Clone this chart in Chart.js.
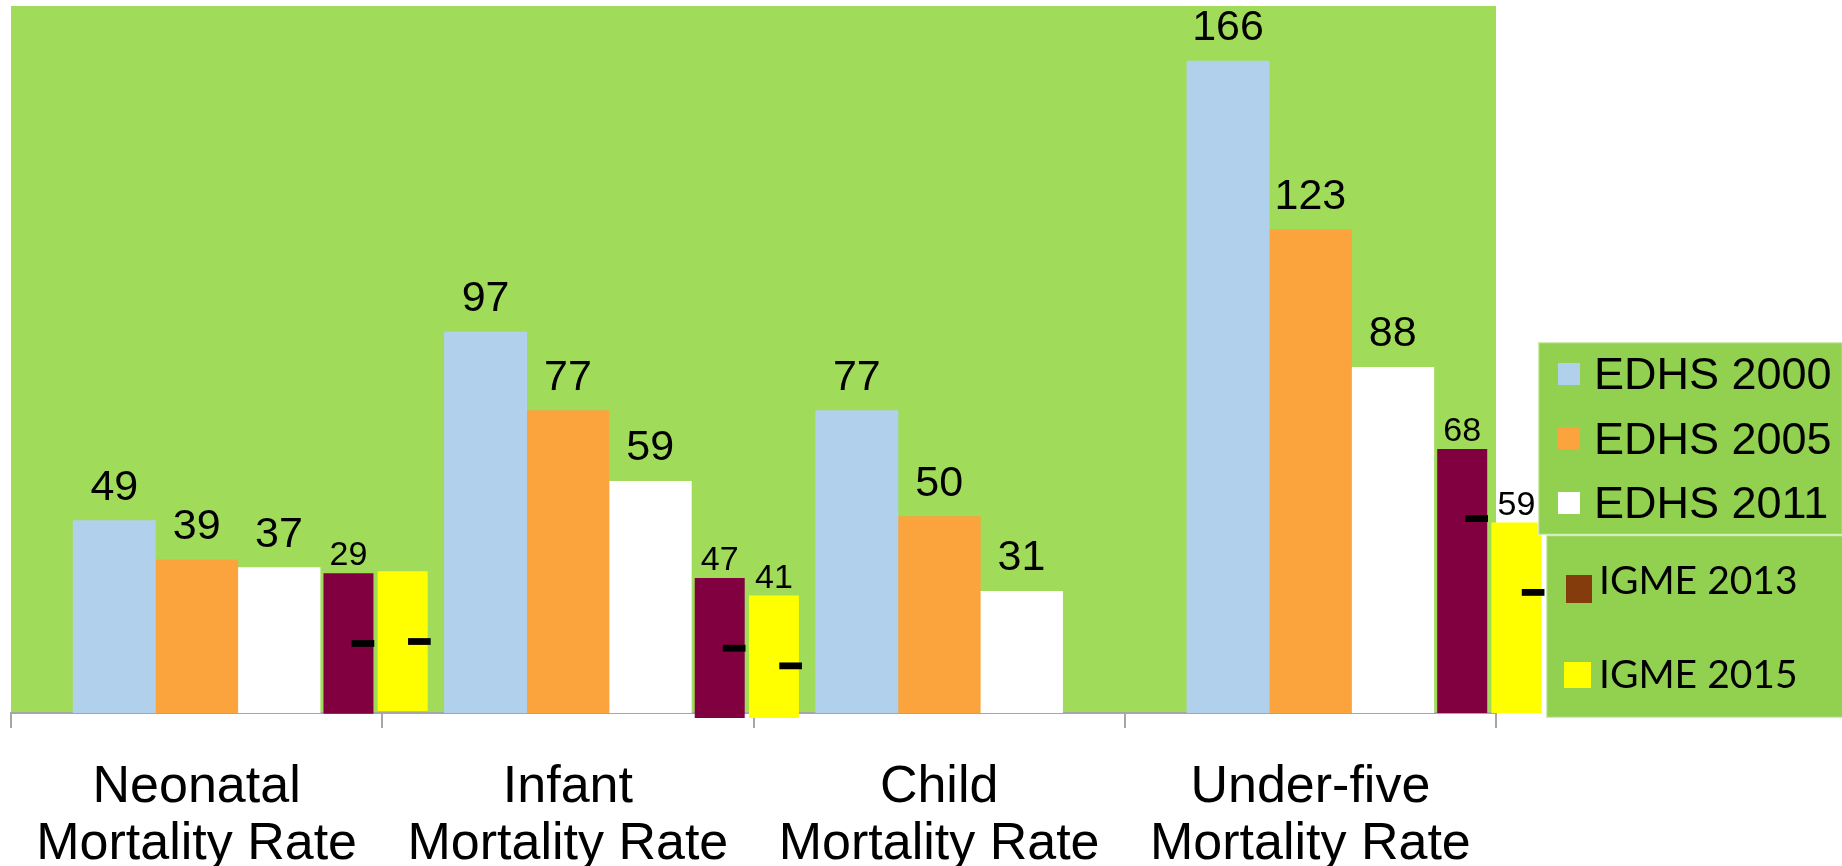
<!DOCTYPE html>
<html>
<head>
<meta charset="utf-8">
<title>Mortality rates</title>
<script src="https://cdn.jsdelivr.net/npm/chart.js@4.4.1/dist/chart.umd.min.js"></script>
<style>
    html, body { margin: 0; padding: 0; background: #fff; }
    #wrap { width: 1842px; height: 866px; }
</style>
</head>
<body>
<div id="wrap"><canvas id="mortalityChart" width="1842" height="866"></canvas></div>
<script>
var categories = [['Neonatal', 'Mortality Rate'], ['Infant', 'Mortality Rate'], ['Child', 'Mortality Rate'], ['Under-five', 'Mortality Rate']];

var edhs2000 = [49, 97, 77, 166];
var edhs2005 = [39, 77, 50, 123];
var edhs2011 = [37, 59, 31, 88];

// IGME bars as they are drawn (bottom / top) and the numbers printed above them
var igme2013Bottom = [-0.2, -1.3, null, 0];
var igme2013Top = [35.6, 34.4, null, 67.2];
var igme2013Labels = ['29', '47', '', '68'];
var igme2015Bottom = [0.5, -1.3, null, 0];
var igme2015Top = [36.1, 29.9, null, 48.5];
var igme2015Labels = ['', '41', '', '59'];

// short black marks drawn on the IGME bars
var igme2013Marks = [17.7, 16.5, null, 49.5];
var igme2015Marks = [18.2, 12.0, null, 30.7];

var seriesNames = ['EDHS 2000', 'EDHS 2005', 'EDHS 2011', 'IGME 2013', 'IGME 2015'];

// where each series sits inside a category (category units, 0 = centre)
var EDHS_STEP = 0.2217;
var SHIFT_2013 = 0.409;
var SHIFT_2015 = 0.555;
var MARK_SHIFT_2013 = 0.448;
var MARK_SHIFT_2015 = 0.600;
var MARK_HALF = 0.78; // half thickness of a mark, in value units

function edhsBars(values, shift) {
    return values.map(function(v, i) {
        return { x: i + shift, y: v, lbl: String(v) };
    });
}

function igmeBars(bottoms, tops, labels, shift) {
    var pts = [];
    for (var i = 0; i < tops.length; i++) {
        if (tops[i] === null) continue;
        pts.push({ x: i + shift, y: [bottoms[i], tops[i]], lbl: labels[i] });
    }
    return pts;
}

function marks(values, shift) {
    var pts = [];
    for (var i = 0; i < values.length; i++) {
        if (values[i] === null) continue;
        pts.push({ x: i + shift, y: [values[i] - MARK_HALF, values[i] + MARK_HALF] });
    }
    return pts;
}

var arial = '"Liberation Sans", Arial, sans-serif';

// green plot area
var plotBackground = {
    id: 'plotBackground',
    beforeDraw: function(chart) {
        var a = chart.chartArea, ctx = chart.ctx;
        ctx.save();
        ctx.fillStyle = '#A0DC5A';
        ctx.fillRect(a.left, a.top, a.right - a.left, a.bottom - a.top);
        ctx.restore();
    }
};

// numbers above bars
var valueLabels = {
    id: 'valueLabels',
    afterDatasetsDraw: function(chart) {
        var ctx = chart.ctx;
        ctx.save();
        ctx.fillStyle = '#000';
        ctx.textAlign = 'center';
        ctx.textBaseline = 'alphabetic';
        chart.data.datasets.forEach(function(ds, di) {
            if (ds.xAxisID === 'x4') return;
            var meta = chart.getDatasetMeta(di);
            var isIgme = ds.xAxisID === 'x2';
            ctx.font = (isIgme ? '34px ' : '43px ') + arial;
            meta.data.forEach(function(bar, j) {
                var txt = ds.data[j].lbl;
                if (!txt) return;
                ctx.fillText(txt, bar.x, bar.y - (isIgme ? 8 : 21));
            });
        });
        ctx.restore();
    }
};

// two legend boxes at the right
var sideLegend = {
    id: 'sideLegend',
    afterDraw: function(chart) {
        var ctx = chart.ctx, a = chart.chartArea;
        var x0 = a.right + 42, w = chart.width - x0;
        ctx.save();
        ctx.fillStyle = '#92D050';
        ctx.fillRect(x0, 342, w, 193);
        ctx.fillRect(x0 + 8, 535, w - 8, 183);
        ctx.strokeStyle = 'rgba(255,255,255,0.55)';
        ctx.lineWidth = 1.5;
        ctx.strokeRect(x0 + 0.5, 342.5, w, 192);
        ctx.strokeRect(x0 + 8.5, 535.5, w, 182);

        var edhsColors = ['#B0D0EC', '#FBA33C', '#FFFFFF'];
        ctx.font = '45px ' + arial;
        ctx.textBaseline = 'alphabetic';
        for (var i = 0; i < 3; i++) {
            var base = 389 + i * 64.5;
            ctx.fillStyle = edhsColors[i];
            ctx.fillRect(x0 + 20, base - 26, 22, 22);
            ctx.fillStyle = '#000';
            ctx.fillText(seriesNames[i], x0 + 56, base);
        }

        ctx.font = '39px Lato, "Open Sans", sans-serif';
        ctx.fillStyle = '#843C0C';
        ctx.fillRect(x0 + 28, 575, 26, 28);
        ctx.fillStyle = '#000';
        ctx.fillText(seriesNames[3], x0 + 61, 594);
        ctx.fillStyle = '#FFFF00';
        ctx.fillRect(x0 + 26, 662, 27, 26);
        ctx.fillStyle = '#000';
        ctx.fillText(seriesNames[4], x0 + 61, 688);
        ctx.restore();
    }
};

// hidden linear axis lined up with the category axis
function hiddenAxis() {
    return {
        type: 'linear',
        display: false,
        offset: false,
        min: -0.5,
        max: 3.5,
        afterBuildTicks: function(axis) { axis.ticks = [{ value: -0.5 }, { value: 3.5 }]; }
    };
}

var barCommon = { grouped: false, categoryPercentage: 1, barPercentage: 1 };

var ctx = document.getElementById('mortalityChart').getContext('2d');
new Chart(ctx, {
    type: 'bar',
    data: {
        labels: categories,
        datasets: [
            { label: 'IGME 2013 mark', data: marks(igme2013Marks, MARK_SHIFT_2013), xAxisID: 'x4',
              grouped: false, backgroundColor: '#000', categoryPercentage: 1, barPercentage: 1, maxBarThickness: 22, clip: false },
            { label: 'IGME 2015 mark', data: marks(igme2015Marks, MARK_SHIFT_2015), xAxisID: 'x4',
              grouped: false, backgroundColor: '#000', categoryPercentage: 1, barPercentage: 1, maxBarThickness: 22, clip: false },
            Object.assign({ label: seriesNames[0], data: edhsBars(edhs2000, -EDHS_STEP), xAxisID: 'x3', backgroundColor: '#B0D0EC' }, barCommon),
            Object.assign({ label: seriesNames[1], data: edhsBars(edhs2005, 0), xAxisID: 'x3', backgroundColor: '#FBA33C' }, barCommon),
            Object.assign({ label: seriesNames[2], data: edhsBars(edhs2011, EDHS_STEP), xAxisID: 'x3', backgroundColor: '#FFFFFF' }, barCommon),
            { label: seriesNames[3], data: igmeBars(igme2013Bottom, igme2013Top, igme2013Labels, SHIFT_2013), xAxisID: 'x2',
              grouped: false, backgroundColor: '#800040', categoryPercentage: 1, barPercentage: 0.93, maxBarThickness: 50, clip: false },
            { label: seriesNames[4], data: igmeBars(igme2015Bottom, igme2015Top, igme2015Labels, SHIFT_2015), xAxisID: 'x2',
              grouped: false, backgroundColor: '#FFFF00', categoryPercentage: 1, barPercentage: 0.93, maxBarThickness: 50, clip: false }
        ]
    },
    options: {
        responsive: false,
        animation: false,
        events: [],
        layout: { autoPadding: false, padding: { left: 11, right: 346, top: 6, bottom: 0 } },
        plugins: { legend: { display: false }, tooltip: { enabled: false } },
        scales: {
            x: {
                type: 'category',
                offset: true,
                grid: { offset: true, drawOnChartArea: false, drawTicks: true, tickLength: 15, color: '#A6A6A6', lineWidth: 2 },
                border: { display: true, color: '#A6A6A6', width: 2 },
                ticks: { color: '#000', padding: 32, maxRotation: 0, autoSkip: false,
                         font: { family: arial, size: 52, lineHeight: 1.08 } },
                afterFit: function(scale) { scale.height = 153; }
            },
            x2: hiddenAxis(),
            x3: hiddenAxis(),
            x4: hiddenAxis(),
            y: {
                display: false,
                min: 0,
                max: 180
            }
        }
    },
    plugins: [plotBackground, valueLabels, sideLegend]
});
</script>
</body>
</html>
